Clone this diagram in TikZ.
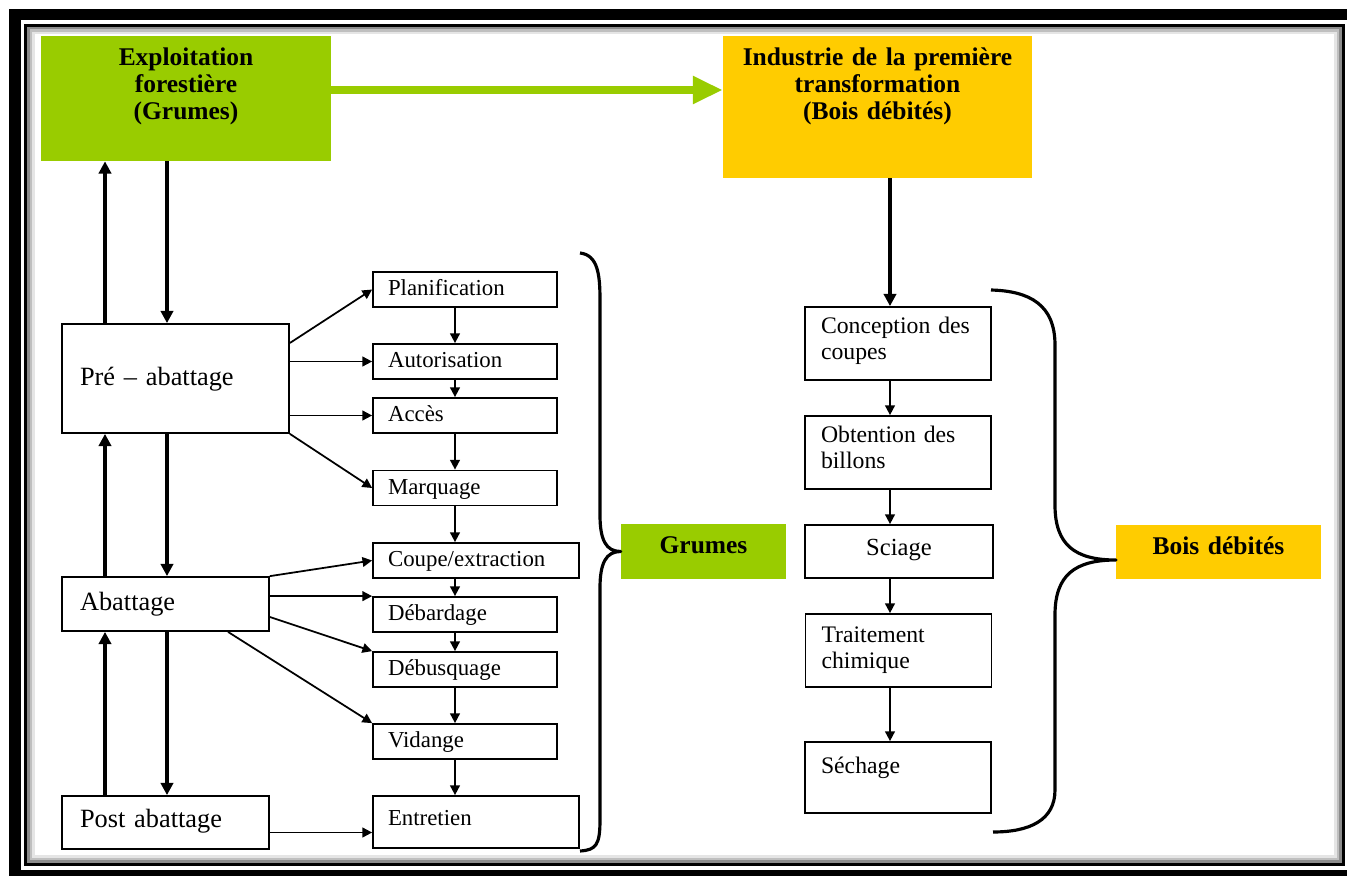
\documentclass[tikz,border=0pt]{standalone}
\usepackage{fontspec}
\setmainfont{Liberation Serif}
\usepackage{tikz}
\usetikzlibrary{arrows.meta,positioning}
\definecolor{leaf}{HTML}{99CC00}
\definecolor{gold}{HTML}{FFCC00}

\begin{document}
\begin{tikzpicture}[x=0.02cm, y=-0.02cm]
		\tikzstyle{Head}	= [inner sep=0pt, align=center, font=\bfseries\fontsize{14.5}{15.5}\selectfont]
		\tikzstyle{Phase}	= [draw, line width=1pt, inner xsep=0.36cm, inner ysep=0pt, text width=3.42cm, align=left, font=\fontsize{15}{17}\selectfont]
		\tikzstyle{Task}	= [draw, line width=1pt, inner xsep=0.3cm, inner ysep=0pt, text width=3.08cm, text height=0.47cm, text depth=0.23cm, align=left, font=\fontsize{13}{14}\selectfont]
		\tikzstyle{Work}	= [draw, line width=1pt, inner xsep=0.32cm, inner ysep=0pt, text width=3.08cm, align=left, font=\fontsize{13.5}{15.3}\selectfont]
		\tikzstyle{Thick}	= [line width=2pt, -{Triangle[length=7pt, width=7pt]}]
		\tikzstyle{Thin}	= [line width=1pt, -{Triangle[length=5.5pt, width=5.5pt]}]
		\tikzstyle{Feed}	= [line width=4.5pt, leaf, -{Triangle[length=17pt, width=15pt]}]
		\tikzstyle{Brace}	= [line width=1.8pt, line join=round]

		% frame
		\useasboundingbox (0,0) rectangle (1347,876);
		\draw [line width=0.23cm] (15,14.5) rectangle (1365,876);
		\draw [line width=0.06cm] (25.5,25) rectangle (1343.5,864.5);
		\draw [line width=0.05cm, black!45] (28.5,28) rectangle (1340.5,861.5);
		\draw [line width=0.05cm, black!25] (31,30.5) rectangle (1338,859);
		\draw [line width=0.05cm, black!10] (33.5,33) rectangle (1335.5,856.5);

		\node (expl) at (186, 98.5) [Head, fill=leaf, text width=5.8cm, text height=0.58cm, text depth=1.92cm] {Exploitation\\forestière\\(Grumes)};
		\node (indus) at (877.5, 107) [Head, fill=gold, text width=6.18cm, text height=0.58cm, text depth=2.26cm] {Industrie de la première\\transformation\\(Bois débités)};
		\node (grum) at (703.5, 551.5) [Head, fill=leaf, text width=3.3cm, text height=0.58cm, text depth=0.52cm] {Grumes};
		\node (bois) at (1218.5, 551.5) [Head, fill=gold, text width=4.1cm, text height=0.6cm, text depth=0.48cm] {Bois débités};

		\node (pre) at (175.5, 378.5) [Phase, text width=3.82cm, text height=1.22cm, text depth=0.96cm] {Pré – abattage};
		\node (abat) at (165.5, 604) [Phase, text height=0.66cm, text depth=0.42cm] {Abattage};
		\node (post) at (165.5, 822.5) [Phase, text height=0.62cm, text depth=0.44cm] {Post abattage};

		\node (plan) at (465, 289.5) [Task] {Planification};
		\node (auto) at (465, 361.5) [Task] {Autorisation};
		\node (acc) at (465, 415.5) [Task] {Accès};
		\node (marq) at (465, 488) [Task] {Marquage};
		\node (coupe) at (476, 560.5) [Task, text width=3.52cm] {Coupe/extraction};
		\node (debard) at (465, 614.5) [Task] {Débardage};
		\node (debus) at (465, 669.5) [Task] {Débusquage};
		\node (vid) at (465, 741.5) [Task] {Vidange};
		\node (entr) at (476, 822) [Task, text width=3.52cm, text height=0.58cm, text depth=0.46cm] {Entretien};

		\node (conc) at (898, 343.5) [Work, text height=0.52cm, text depth=0.94cm] {Conception des\\coupes};
		\node (obt) at (898, 452.5) [Work, text height=0.52cm, text depth=0.94cm] {Obtention des\\billons};
		\node (sci) at (899, 551.5) [Work, text width=3.12cm, align=center, text height=0.6cm, text depth=0.46cm, font=\fontsize{14}{16}\selectfont] {Sciage};
		\node (trait) at (898.5, 650.5) [Work, text height=0.56cm, text depth=0.9cm] {Traitement\\chimique};
		\node (sech) at (898, 777.5) [Work, text height=0.62cm, text depth=0.8cm] {Séchage};

		\coordinate (upx) at (105, 0);
		\coordinate (dnx) at (167, 0);
		\coordinate (mx) at (455, 0);
		\coordinate (rx) at (890, 0);

		\coordinate (ga) at ([yshift=0.17cm]expl.east);
		\draw [Feed] (ga) to (ga -| indus.west);

		\draw [Thick] (pre.north -| upx) to (expl.south -| upx);
		\draw [Thick] (expl.south -| dnx) to (pre.north -| dnx);
		\draw [Thick] (abat.north -| upx) to (pre.south -| upx);
		\draw [Thick] (pre.south -| dnx) to (abat.north -| dnx);
		\draw [Thick] (post.north -| upx) to (abat.south -| upx);
		\draw [Thick] (abat.south -| dnx) to (post.north -| dnx);
		\draw [Thick] (indus.south -| rx) to (conc.north -| rx);

		\coordinate (p1) at ([yshift=0.71cm]pre.east);
		\draw [Thin] (p1) to (plan.west);
		\draw [Thin] (pre.east |- auto.west) to (auto.west);
		\draw [Thin] (pre.east |- acc.west) to (acc.west);
		\draw [Thin] (pre.south east) to (marq.west);
		\draw [Thin] (abat.north east) to (coupe.west);
		\draw [Thin] (abat.east |- debard.north west) to (debard.north west);
		\coordinate (a3) at ([yshift=-0.26cm]abat.east);
		\draw [Thin] (a3) to (debus.north west);
		\coordinate (a4) at ([xshift=1.25cm]abat.south);
		\draw [Thin] (a4) to (vid.north west);
		\coordinate (p5) at ([yshift=-0.2cm]post.east);
		\draw [Thin] (p5) to (p5 -| entr.west);

		\draw [Thin] (plan.south -| mx) to (auto.north -| mx);
		\draw [Thin] (auto.south -| mx) to (acc.north -| mx);
		\draw [Thin] (acc.south -| mx) to (marq.north -| mx);
		\draw [Thin] (marq.south -| mx) to (coupe.north -| mx);
		\draw [Thin] (coupe.south -| mx) to (debard.north -| mx);
		\draw [Thin] (debard.south -| mx) to (debus.north -| mx);
		\draw [Thin] (debus.south -| mx) to (vid.north -| mx);
		\draw [Thin] (vid.south -| mx) to (entr.north -| mx);

		\draw [Thin] (conc.south -| rx) to (obt.north -| rx);
		\draw [Thin] (obt.south -| rx) to (sci.north -| rx);
		\draw [Thin] (sci.south -| rx) to (trait.north -| rx);
		\draw [Thin] (trait.south -| rx) to (sech.north -| rx);

		% braces
		\draw [Brace] (580,253) .. controls (598,255) and (600,275) .. (600,300) -- (600,515) .. controls (600,540) and (606,551.5) .. (grum.west) .. controls (606,551.5) and (600,563) .. (600,588) -- (600,820) .. controls (600,845) and (596,850) .. (580,851);
		\draw [Brace] (991,290) .. controls (1030,291) and (1055,305) .. (1055,345) -- (1055,505) .. controls (1055,545) and (1075,560) .. (1116,560) .. controls (1075,560) and (1055,575) .. (1055,615) -- (1055,790) .. controls (1055,820) and (1030,832) .. (993,832);
\end{tikzpicture}
\end{document}
